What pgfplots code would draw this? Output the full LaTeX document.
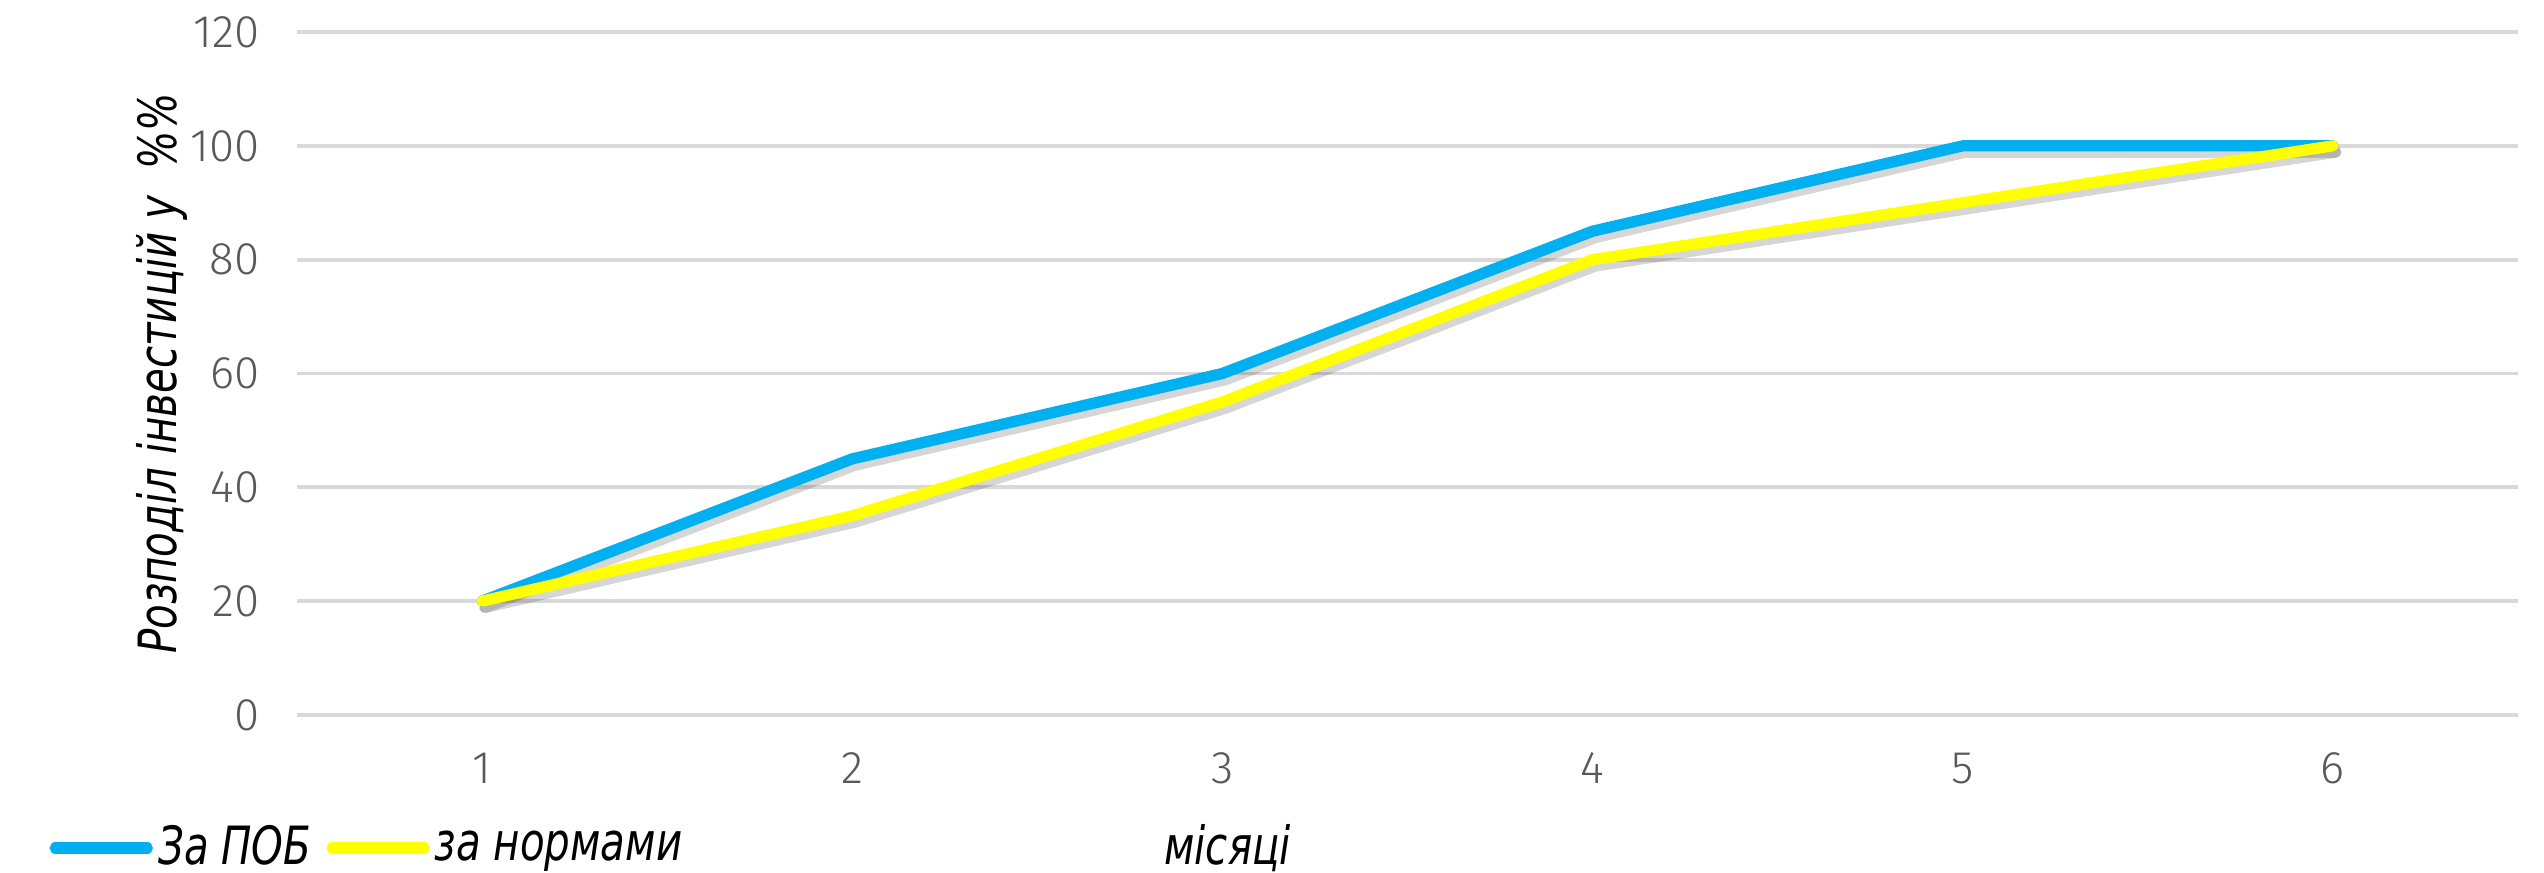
\documentclass[border=0pt]{standalone}
\usepackage{pgfplots}
\pgfplotsset{compat=1.18}
\usepackage{fontspec}
\setmainfont{DejaVu Sans}
\newfontfamily\tickfont{Fira Sans Light}
\newfontfamily\labfont[FakeStretch=0.85]{DejaVu Sans Condensed}
\definecolor{cblue}{HTML}{00B0F0}
\definecolor{cyellow}{HTML}{FFFF00}
\definecolor{cgrid}{HTML}{D9D9D9}
\definecolor{ctick}{HTML}{595959}
\tikzset{shadowed/.style={preaction={draw=black, opacity=0.16, transform canvas={shift={(0.8pt,-1.8pt)}}}}}
\begin{document}
\begin{tikzpicture}
\begin{axis}[
  at={(2.97cm,1.58cm)}, anchor=south west,
  scale only axis, width=22.21cm, height=6.83cm,
  xmin=0.5, xmax=6.5, ymin=0, ymax=120,
  xtick={1,2,3,4,5,6}, ytick={0,20,40,60,80,100,120},
  axis line style={draw=none},
  major tick length=0pt,
  ymajorgrids, grid style={cgrid, line width=1.1pt},
  /pgf/number format/assume math mode=true,
  tick label style={font=\tickfont\fontsize{13}{15}\selectfont, text=ctick},
  yticklabel style={anchor=east, inner sep=0pt, xshift=-0.37cm},
  xticklabel style={anchor=north, inner sep=0pt, yshift=-0.37cm},
  xlabel={місяці},
  xlabel style={at={(axis description cs:0.419,-0.1947)}, anchor=center, font=\labfont\itshape\fontsize{15}{17}\selectfont},
  ylabel={Розподіл інвестицій у\ \ \%\%},
  ylabel style={at={(axis description cs:-0.0608,0.5)}, anchor=center, rotate=0, font=\labfont\itshape\fontsize{15}{17}\selectfont},
  legend columns=2,
  legend style={at={(axis description cs:-0.1117,-0.1947)}, anchor=west, draw=none, fill=none,
    font=\labfont\itshape\fontsize{15}{17}\selectfont, inner sep=0pt,
    nodes={inner sep=1.5pt},
    /tikz/every even column/.append style={column sep=0.1cm}},
  legend image code/.code={\draw[#1, line cap=round] (0cm,0cm) -- (0.92cm,0cm);},
]
\addlegendimage{cblue, line width=3.2pt}
\addlegendentry{За ПОБ}
\addlegendimage{cyellow, line width=3.2pt}
\addlegendentry{за нормами}
\addplot[cblue, line width=3.2pt, line join=round, line cap=round, shadowed, forget plot] coordinates {(1,20) (2,45) (3,60) (4,85) (5,100) (6,100)};
\addplot[cyellow, line width=3.2pt, line join=round, line cap=round, shadowed, forget plot] coordinates {(1,20) (2,35) (3,55) (4,80) (5,90) (6,100)};
\end{axis}
\pgfresetboundingbox
\path (0,0) rectangle (25.44,8.73);
\end{tikzpicture}
\end{document}
